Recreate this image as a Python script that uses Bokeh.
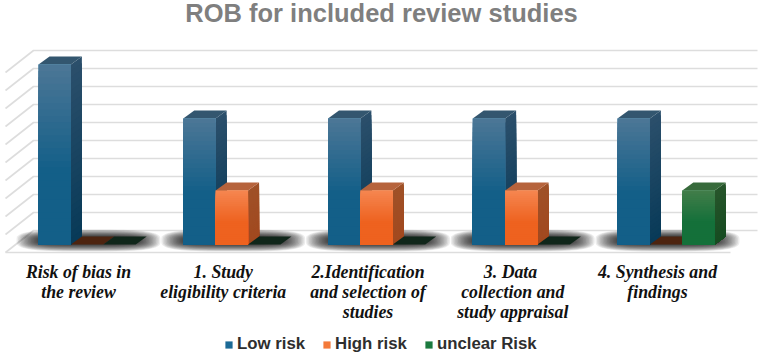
import numpy as np
from bokeh.plotting import figure
from bokeh.models import Legend, LegendItem
from bokeh.core.properties import value
from bokeh.embed import file_html
from bokeh.resources import INLINE

title_text = "ROB for included review studies"
categories = [
    ["Risk of bias in", "the review"],
    ["1. Study", "eligibility criteria"],
    ["2.Identification", "and selection of", "studies"],
    ["3.  Data", "collection and", "study appraisal"],
    ["4. Synthesis and", "findings"],
]
series_names = ["Low risk", "High risk", "unclear Risk"]
low_risk = [100, 70, 70, 70, 70]
high_risk = [0, 30, 30, 30, 0]
unclear_risk = [0, 0, 0, 0, 30]
grid_ticks = [0, 10, 20, 30, 40, 50, 60, 70, 80, 90, 100]

W, H = 764, 356
UX = 144.75          # pixels per category
UY = 1.8             # pixels per value unit
BASE_PX, GROUP_PX = 244.0, 86.6
BAR = 32.4 / UX
DX, DY = 11 / UX, 8 / UY
xr = (-GROUP_PX / UX, (W - GROUP_PX) / UX)
yr = ((BASE_PX - H) / UY, BASE_PX / UY)

def X(px):
    return (px - GROUP_PX) / UX

def Y(py):
    return (BASE_PX - py) / UY

p = figure(width=W, height=H, x_range=xr, y_range=yr, output_backend="svg",
           toolbar_location=None, min_border=0, outline_line_color=None,
           background_fill_color="white", border_fill_color="white")
p.styles = {"position": "absolute", "left": "0px", "top": "0px"}
p.xaxis.visible = False
p.yaxis.visible = False
p.grid.visible = False

# gridlines: back wall, side wall, floor
grid_col = "#dddddd"
bx0, bx1, fx0, fx1 = X(33), X(757), X(5), X(730)
back_off, front_off = 14 / UY, -8 / UY
for t in grid_ticks:
    yb = t + back_off
    yf = t + front_off
    p.line([bx1, bx0, fx0], [yb, yb, yf], line_color=grid_col, line_width=1.6)
p.line([fx0, fx1], [front_off, front_off], line_color=grid_col, line_width=1.6)

series = [low_risk, high_risk, unclear_risk]
front_top = ["#4b7696", "#f5854f", "#417d49"]
front_bot = ["#135f88", "#ee621f", "#14703a"]
side_top = ["#2b4f6b", "#9f5128", "#27552b"]
side_bot = ["#083a58", "#a2491f", "#174c22"]
top_col = ["#33566f", "#b6633c", "#376a3b"]
zero_col = ["#10304a", "#4d2410", "#10261a"]
legend_col = ["#1b6a96", "#f47a3a", "#1b7a3e"]
N = 28

def mix(a, b, t):
    ca = [int(a[i:i + 2], 16) for i in (1, 3, 5)]
    cb = [int(b[i:i + 2], 16) for i in (1, 3, 5)]
    return "#%02x%02x%02x" % tuple(int(round(u + (v - u) * t)) for u, v in zip(ca, cb))

# soft contact shadows
th = np.linspace(0, 2 * np.pi, 80)
for c in range(len(categories)):
    cx = c + X(88)
    cy = Y(240)
    for k in range(18):
        f = 1 - k / 18
        rx = (26 * f + 46) / UX
        ry = (8 * f + 3) / UY
        xs = cx + rx * np.sign(np.cos(th)) * np.abs(np.cos(th)) ** 0.6
        ys = cy + ry * np.sign(np.sin(th)) * np.abs(np.sin(th)) ** 0.6
        p.patch(xs, ys, fill_color="#000000", fill_alpha=0.075, line_color=None)

legend_renderers = []
for s, vals in enumerate(series):
    first = None
    for c, v in enumerate(vals):
        l = c - 1.5 * BAR + s * BAR
        r = l + BAR
        if v == 0:
            p.patch([l, r, r + DX, l + DX], [0, 0, DY, DY],
                    fill_color=zero_col[s], line_color=None)
            continue
        # side face
        for i in range(N):
            t = i / (N - 1)
            h = v * (1 - i / N)
            p.patch([r, r + DX, r + DX, r], [0, DY, h + DY, h],
                    fill_color=mix(side_top[s], side_bot[s], t), line_color=None)
        # top face
        p.patch([l, r, r + DX, l + DX], [v, v, v + DY, v + DY],
                fill_color=top_col[s], line_color=None)
        # front face
        base = p.quad(left=l, right=r, bottom=0, top=v, fill_color=legend_col[s], line_color=None)
        if first is None:
            first = base
        for i in range(N):
            t = i / (N - 1)
            h = v * (1 - i / N)
            p.quad(left=l, right=r, bottom=0, top=h,
                   fill_color=mix(front_top[s], front_bot[s], min(1, t * 1.7)), line_color=None)
    legend_renderers.append(first)

# category labels
line_px = [271, 291, 311]
for c, lines in enumerate(categories):
    for j, txt in enumerate(lines):
        p.text([c + X(78)], [Y(line_px[j])], text=[txt], text_align="center", text_baseline="middle",
               text_font=value("Liberation Serif"), text_font_style="bold italic",
               text_font_size="17.8px", text_color="#111111")

# title
p.text([X(381)], [Y(12)], text=[title_text], text_align="center", text_baseline="middle",
       text_font=value("Liberation Sans"), text_font_style="bold",
       text_font_size="25.5px", text_color="#7f7f7f")

legend = Legend(items=[LegendItem(label=n, renderers=[r]) for n, r in zip(series_names, legend_renderers)],
                orientation="horizontal", location=(224, 2), padding=0, margin=0, spacing=17,
                glyph_width=9, glyph_height=9, label_standoff=4,
                label_text_font="Liberation Sans", label_text_font_style="bold",
                label_text_font_size="16.8px", label_text_color="#2e2e2e",
                border_line_color=None, background_fill_alpha=0)
p.add_layout(legend)

open("out.html", "w").write(file_html(p, INLINE))
